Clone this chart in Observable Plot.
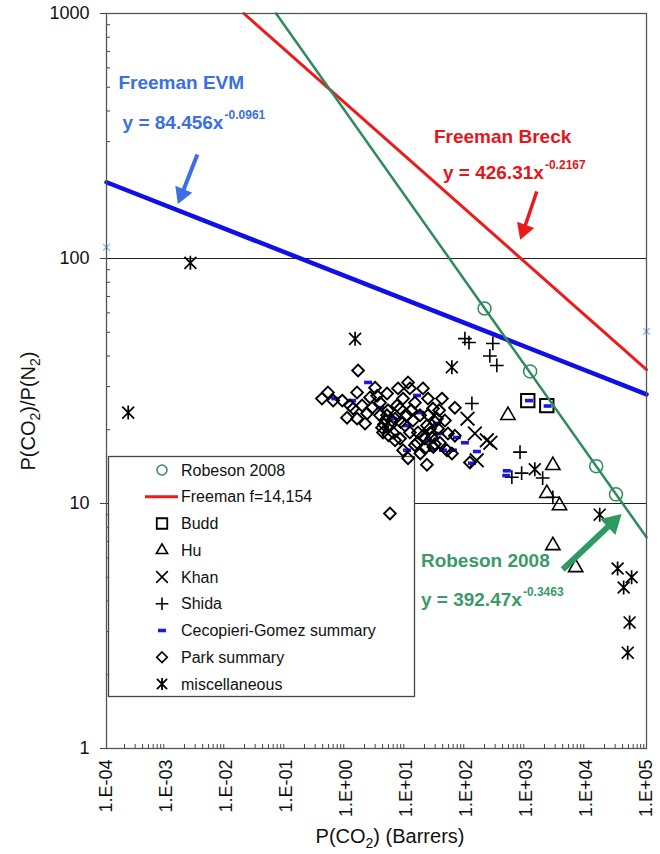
<!DOCTYPE html>
<html><head><meta charset="utf-8">
<script src="https://cdn.jsdelivr.net/npm/d3@7"></script>
<script src="https://cdn.jsdelivr.net/npm/@observablehq/plot@0.6"></script>
<style>
body{margin:0;background:#fff;}
#chart{width:660px;height:854px;}
</style></head><body><div id="chart"></div>
<script>
// ---- axis ticks ----
const xTicks = [1e-4, 1e-3, 1e-2, 1e-1, 1e0, 1e1, 1e2, 1e3, 1e4, 1e5];
const xTickLabels = ["1.E-04","1.E-03","1.E-02","1.E-01","1.E+00","1.E+01","1.E+02","1.E+03","1.E+04","1.E+05"];
const yTicks = [1, 10, 100, 1000];
const yTickLabels = ["1","10","100","1000"];
const gridY = [10, 100];

// ---- data series ----
const robesonX = [200, 1150, 14500, 31000];
const robesonY = [62.5, 34.6, 14.2, 10.9];

const buddX = [1050, 2180];
const buddY = [26.3, 25.1];

const huX = [490, 2750, 2180, 3550, 2750, 6600];
const huY = [22.9, 14.3, 11.0, 9.8, 6.74, 5.48];

const khanX = [104, 138, 218, 250, 148];
const khanY = [22.2, 19.3, 18.1, 17.7, 15.0];

const shidaX = [94, 110, 275, 245, 320, 123, 780, 570, 830, 1860, 2750];
const shidaY = [47.1, 45.4, 45, 40, 36.6, 25.6, 16.2, 12.8, 13.3, 12.7, 10.6];

const cecoX = [2.29, 0.65, 1.24, 3.62, 15.0, 16.8, 10.2, 32.2, 36.1, 26.5, 40.5, 59.4, 94, 69.2, 10.2, 149, 123, 5.96, 22.8, 470, 460, 1100, 2250];
const cecoY = [31.2, 26.8, 26.3, 24.6, 27.6, 23.5, 20.8, 21.2, 19.3, 16.5, 16.5, 16.5, 17.7, 18.6, 16.5, 16.3, 14.6, 22.2, 18.1, 13.6, 13.0, 26.3, 25.0];

const parkX = [1.56, 0.39, 0.49, 0.60, 1.50, 1.15, 1.29, 1.02, 1.50, 2.04, 2.99, 2.47, 2.67, 2.20, 3.62, 4.74, 3.91, 4.74, 5.74, 5.96,
  7.22, 8.75, 10.6, 11.4, 7.80, 10.2, 7.80, 8.75, 10.6, 11.4, 15.0, 13.8, 18.8, 22.8, 16.8, 21.9, 26.5, 27.6, 32.2, 39.0,
  36.1, 47.2, 57.2, 49.1, 64.1, 64.1, 21.9, 114, 13.8, 20.3, 5.3, 4.39, 5.32, 4.92, 6.44, 3.62, 4.06, 6.95, 3.23, 18.8,
  24.6, 29.8, 20.3, 15.5, 33.4, 12.8, 43.7, 9.45, 6.44, 1.82, 0.85, 4.2, 5.0, 25, 28, 30, 23, 8.0, 12.0, 35, 17];
const parkY = [34.9, 26.8, 28.4, 26.3, 28.4, 25.1, 24.4, 22.4, 22.2, 21.2, 29.7, 27.1, 24.6, 23.3, 25.8, 28.1, 20.4, 22.9, 21.8, 19.5,
  29.5, 26.8, 31.2, 29.5, 24.4, 22.9, 18.4, 16.5, 15.3, 19.5, 17.7, 25.8, 29.5, 26.8, 22.9, 20.8, 18.6, 24.4, 22.2, 26.8,
  17.7, 16.5, 16.0, 19.3, 18.9, 24.6, 14.4, 14.7, 17.3, 16.8, 9.1, 21.8, 20.8, 24.0, 22.2, 22.9, 19.5, 25.1, 27.5, 18.9,
  20.2, 17.5, 18.4, 19.5, 20.2, 21.8, 21.8, 20.8, 18.1, 25.1, 26.3, 21.0, 19.0, 19.5, 17.0, 21.5, 23.0, 21.5, 24.0, 24.0, 16.0];

const miscX = [0.0025, 0.00023, 1.39, 57, 1375, 16600, 33000, 56500, 41600, 52300, 48600];
const miscY = [96, 23.5, 47, 36, 13.8, 9.0, 5.43, 5.0, 4.54, 3.27, 2.46];

const edgeX = [1e-4, 1e5];
const edgeY = [111, 50.4];

// trend lines (endpoints of the fitted power laws)
const evmX = [1e-4, 1e5];      const evmY = [204.7, 27.9];
const breckX = [0.0195, 1e5];  const breckY = [1000, 35.2];
const robLineX = [0.0671, 1e5]; const robLineY = [1000, 7.28];

// annotations
const annTitles = ["Freeman EVM", "Freeman Breck", "Robeson 2008"];
const annTitleX = [1.58e-4, 28.7, 17.4];
const annTitleY = [494, 295, 5.48];
const annEq = ["y = 84.456x", "y = 426.31x", "y = 392.47x"];
const annExp = ["-0.0961", "-0.2167", "-0.3463"];
const annEqX = [1.85e-4, 40.5, 17.4];
const annEqY = [339, 212, 3.83];
const annColors = ["#3b6fe4", "#e5161b", "#3a9a68"];
const arrowX1 = [0.00327, 1483, 4018];
const arrowY1 = [266, 187.6, 5.38];
const arrowX2 = [0.0018, 902, 27000];
const arrowY2 = [183, 131, 8.35];
const arrowRot = [202, 200, 46.5];
const arrowColors = ["#3b6fe4", "#e81a1a", "#2e9a62"];
const arrowWidth = [4, 3.5, 6];
const arrowHead = [6.8, 6.8, 8.2];

const legendLabels = ["Robeson 2008","Freeman f=14,154","Budd","Hu","Khan","Shida","Cecopieri-Gomez summary","Park summary","miscellaneous"];

// ---- helpers ----
const pts = (xs, ys) => xs.map((x, i) => ({x, y: ys[i]}));
const minorX = [];
for (let e = -4; e < 5; e++) for (let m = 2; m <= 9; m++) minorX.push(m * Math.pow(10, e));
const minorY = [];
for (let e = 0; e < 3; e++) for (let m = 2; m <= 9; m++) minorY.push(m * Math.pow(10, e));

const dashSymbol = {draw(ctx, size) { const w = 4, h = 1.8; ctx.moveTo(-w, -h); ctx.lineTo(w, -h); ctx.lineTo(w, h); ctx.lineTo(-w, h); ctx.closePath(); }};
const starSymbol = {draw(ctx, size) { const r = Math.sqrt(size / Math.PI); const d = r * 0.85; ctx.moveTo(0, -r); ctx.lineTo(0, r); ctx.moveTo(-d, -d); ctx.lineTo(d, d); ctx.moveTo(-d, d); ctx.lineTo(d, -d); }};

const logIdx = (arr, d) => arr.findIndex(t => Math.abs(Math.log10(t) - Math.log10(d)) < 1e-6);

const arrows = arrowX1.map((x1, i) => ({x1, y1: arrowY1[i], x2: arrowX2[i], y2: arrowY2[i], rot: arrowRot[i], c: arrowColors[i], w: arrowWidth[i], h: arrowHead[i]}));
const titles = annTitles.map((t, i) => ({t, x: annTitleX[i], y: annTitleY[i], c: annColors[i]}));
const eqs = annEq.map((t, i) => ({t, e: annExp[i], x: annEqX[i], y: annEqY[i], c: annColors[i]}));

const stroke = {stroke: "#000", fill: "none", strokeWidth: 1.6};

const chart = Plot.plot({
  width: 660, height: 854,
  marginLeft: 106, marginRight: 14, marginTop: 13, marginBottom: 106,
  style: {fontFamily: "'Liberation Sans', Arial, sans-serif", fontSize: "18px", background: "#fff", color: "#111", overflow: "visible"},
  x: {type: "log", domain: [1e-4, 1e5]},
  y: {type: "log", domain: [1, 1000]},
  r: {type: "identity"},
  marks: [
    Plot.ruleY(gridY, {stroke: "#222", strokeWidth: 1}),
    Plot.axisY({ticks: yTicks, tickFormat: d => yTickLabels[logIdx(yTicks, d)], tickSize: 6, tickPadding: 11, label: null, stroke: "#444"}),
    Plot.axisX({ticks: xTicks, tickFormat: d => xTickLabels[logIdx(xTicks, d)], tickRotate: -90, tickSize: 0, tickPadding: 11, label: null}),
    Plot.ruleX(minorX, {y1: 1, y2: 1, insetTop: -4, stroke: "#444"}),
    Plot.ruleY(minorY, {x1: 1e-4, x2: 1e-4, insetRight: -4, stroke: "#444"}),
    Plot.dot(pts(robesonX, robesonY), {x: "x", y: "y", symbol: "circle", r: 6.5, stroke: "#2e8b5a", fill: "none", strokeWidth: 1.5}),
    Plot.dot(pts(buddX, buddY), {x: "x", y: "y", symbol: "square2", r: 8.5, ...stroke, strokeWidth: 2}),
    Plot.dot(pts(huX, huY), {x: "x", y: "y", symbol: "triangle2", r: 6.8, ...stroke}),
    Plot.dot(pts(khanX, khanY), {x: "x", y: "y", symbol: "times", r: 6.3, ...stroke, strokeWidth: 1.8}),
    Plot.dot(pts(shidaX, shidaY), {x: "x", y: "y", symbol: "plus", r: 4.5, ...stroke}),
    Plot.dot(pts(cecoX, cecoY), {x: "x", y: "y", symbol: dashSymbol, fill: "#1a1adc", stroke: "none"}),
    Plot.dot(pts(parkX, parkY), {x: "x", y: "y", symbol: "diamond2", r: 5.3, ...stroke, strokeWidth: 1.9}),
    Plot.dot(pts(miscX, miscY), {x: "x", y: "y", symbol: starSymbol, r: 7, ...stroke, strokeWidth: 1.7}),
    Plot.dot(pts(edgeX, edgeY), {x: "x", y: "y", symbol: "times", r: 3.2, stroke: "#8fbfea", fill: "none", strokeWidth: 1.3}),
    Plot.line(pts(evmX, evmY), {x: "x", y: "y", stroke: "#1010e6", strokeWidth: 4.5}),
    Plot.line(pts(breckX, breckY), {x: "x", y: "y", stroke: "#ee1b1b", strokeWidth: 3}),
    Plot.line(pts(robLineX, robLineY), {x: "x", y: "y", stroke: "#2e8b5a", strokeWidth: 2.5}),
    Plot.link(arrows, {x1: "x1", y1: "y1", x2: "x2", y2: "y2", stroke: "c", strokeWidth: "w"}),
    Plot.dot(arrows, {x: "x2", y: "y2", symbol: "triangle", rotate: "rot", r: "h", fill: "c", stroke: "none"}),
    Plot.text(titles, {x: "x", y: "y", text: "t", fill: "c", fontWeight: "bold", fontSize: 19, textAnchor: "start", lineAnchor: "bottom"}),
    Plot.text(eqs, {x: "x", y: "y", text: "t", fill: "c", fontWeight: "bold", fontSize: 19, textAnchor: "start", lineAnchor: "bottom"}),
    Plot.text(eqs, {x: "x", y: "y", text: "e", fill: "c", fontWeight: "bold", fontSize: 12, textAnchor: "start", lineAnchor: "bottom", dx: 102, dy: -10}),
    Plot.frame({stroke: "#555", strokeWidth: 1.3})
  ]
});
document.getElementById("chart").appendChild(chart);

// ---- legend & axis titles ----
const svg = d3.select(chart);
const leg = svg.insert("g", 'g[aria-label="dot"]');
leg.append("rect").attr("x", 108.5).attr("y", 456.5).attr("width", 306).attr("height", 240)
  .attr("fill", "#fff").attr("stroke", "#444").attr("stroke-width", 1.3);
const rowY = i => 470 + i * 26.75;
const symX = 162;
const sym = (type, size) => d3.symbol(type, size)();
legendLabels.forEach((lab, i) => {
  const y = rowY(i);
  leg.append("text").attr("x", 181).attr("y", y).attr("dy", "0.35em").attr("text-anchor", "start")
    .attr("font-size", 16).attr("fill", "#111").text(lab);
  const g = leg.append("g").attr("transform", `translate(${symX},${y})`);
  if (i === 0) g.append("circle").attr("r", 5).attr("fill", "none").attr("stroke", "#2e8b5a").attr("stroke-width", 1.5);
  if (i === 1) leg.append("line").attr("x1", 145).attr("x2", 178).attr("y1", y).attr("y2", y).attr("stroke", "#ee1b1b").attr("stroke-width", 3);
  if (i === 2) g.append("path").attr("d", sym(d3.symbolSquare2, 140)).attr("fill", "none").attr("stroke", "#000").attr("stroke-width", 1.8);
  if (i === 3) g.append("path").attr("d", sym(d3.symbolTriangle2, 90)).attr("fill", "none").attr("stroke", "#000").attr("stroke-width", 1.6);
  if (i === 4) g.append("path").attr("d", sym(d3.symbolTimes, 90)).attr("fill", "none").attr("stroke", "#000").attr("stroke-width", 1.6);
  if (i === 5) g.append("path").attr("d", sym(d3.symbolPlus, 55)).attr("fill", "none").attr("stroke", "#000").attr("stroke-width", 1.6);
  if (i === 6) g.append("path").attr("d", sym(dashSymbol, 50)).attr("fill", "#1a1adc");
  if (i === 7) g.append("path").attr("d", sym(d3.symbolDiamond2, 70)).attr("fill", "none").attr("stroke", "#000").attr("stroke-width", 1.7);
  if (i === 8) g.append("path").attr("d", sym(starSymbol, Math.PI * 36)).attr("fill", "none").attr("stroke", "#000").attr("stroke-width", 1.8);
});

const xt = svg.append("text").attr("x", 390).attr("y", 843).attr("text-anchor", "middle").attr("font-size", 20).attr("fill", "#111");
xt.append("tspan").text("P(CO");
xt.append("tspan").attr("font-size", 14).attr("dy", 5).text("2");
xt.append("tspan").attr("dy", -5).text(") (Barrers)");

const yt = svg.append("text").attr("transform", "translate(35,411) rotate(-90)").attr("text-anchor", "middle").attr("font-size", 20).attr("fill", "#111");
yt.append("tspan").text("P(CO");
yt.append("tspan").attr("font-size", 14).attr("dy", 5).text("2");
yt.append("tspan").attr("dy", -5).text(")/P(N");
yt.append("tspan").attr("font-size", 14).attr("dy", 5).text("2");
yt.append("tspan").attr("dy", -5).text(")");
</script>
</body></html>
